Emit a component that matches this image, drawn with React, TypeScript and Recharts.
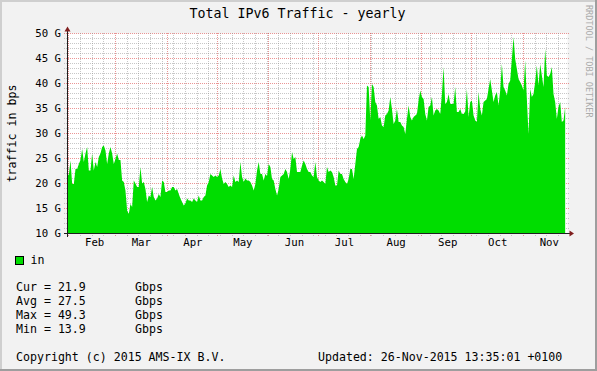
import React from 'react';
import { ComposedChart, Area, XAxis, YAxis, CartesianGrid } from 'recharts';

// time axis: days since 1 Feb 2015 (Sundays on multiples of 7)
const startDay = -1;
const trafficGbps = [
  21.9, 21.7, 24.6, 19.9, 19.9, 22.9, 22.9, 23.9, 24.7, 26.9,
  24.3, 26.0, 27.3, 22.6, 22.6, 26.0, 22.6, 24.3, 23.3, 25.3,
  26.0, 27.3, 27.6, 26.6, 23.9, 26.0, 27.3, 26.0, 23.9, 24.9,
  26.0, 24.7, 24.7, 20.6, 20.3, 18.6, 14.6, 13.9, 15.9, 15.3,
  20.6, 20.0, 19.3, 19.3, 23.3, 20.0, 20.3, 18.9, 16.3, 17.6,
  17.3, 19.3, 17.3, 16.6, 17.0, 17.9, 17.3, 20.6, 20.3, 18.3,
  18.3, 18.6, 18.6, 19.3, 19.3, 18.6, 18.9, 17.9, 17.0, 16.3,
  15.6, 16.0, 17.0, 16.6, 16.6, 16.3, 17.0, 16.6, 16.3, 17.6,
  16.6, 16.6, 17.3, 17.6, 19.6, 20.3, 21.9, 21.6, 21.3, 21.6,
  21.3, 21.6, 22.9, 21.0, 19.9, 20.3, 19.9, 19.3, 19.6, 19.3,
  21.6, 20.3, 20.6, 20.3, 24.3, 21.3, 20.3, 21.0, 20.6, 20.6,
  20.3, 19.6, 18.6, 19.9, 22.6, 24.3, 21.9, 21.9, 20.6, 21.9,
  21.5, 23.9, 23.3, 20.9, 20.6, 18.9, 17.6, 18.9, 21.3, 21.6,
  21.9, 22.9, 22.3, 20.9, 22.9, 26.3, 24.9, 25.3, 22.3, 22.3,
  22.3, 23.6, 24.6, 23.9, 22.9, 22.3, 22.3, 21.6, 21.3, 24.3,
  21.3, 20.6, 20.3, 20.6, 20.3, 19.9, 23.3, 22.3, 22.6, 22.3,
  21.3, 19.6, 19.6, 22.6, 21.9, 21.9, 20.9, 20.3, 19.9, 20.9,
  22.9, 22.9, 20.9, 23.9, 26.9, 27.3, 28.9, 29.6, 28.9, 29.6,
  39.6, 39.3, 32.6, 39.9, 39.3, 36.3, 35.6, 32.9, 33.3, 31.6,
  31.3, 33.6, 33.9, 34.6, 37.3, 34.9, 31.9, 32.6, 34.9, 32.3,
  32.3, 31.6, 31.3, 29.9, 32.9, 35.6, 33.3, 32.6, 33.3, 33.6,
  33.9, 36.6, 38.6, 37.3, 36.9, 33.9, 32.6, 35.3, 35.6, 37.3,
  33.6, 34.6, 34.9, 34.6, 33.9, 37.9, 43.3, 35.9, 36.3, 37.9,
  35.9, 35.9, 35.9, 39.3, 34.3, 34.3, 34.9, 33.9, 33.9,
  34.4, 38.9, 33.3, 36.3, 36.6, 33.6, 32.6, 32.3, 38.3, 34.9,
  33.6, 36.3, 36.6, 36.9, 38.9, 40.9, 38.6, 36.3, 37.6, 38.3,
  35.6, 38.6, 43.9, 39.3, 38.6, 37.6, 39.9, 40.6, 44.9, 49.3,
  44.9, 42.9, 40.9, 40.3, 39.6, 38.6, 44.6, 36.9, 29.9, 38.9,
  37.3, 37.9, 40.3, 43.6, 39.6, 43.9, 41.6, 39.3, 46.9, 41.6,
  41.3, 41.9, 43.3, 37.9, 36.3, 32.9, 35.3, 36.3, 32.3, 32.6,
  35.3,
];
const monthStartDays = [0, 28, 59, 89, 120, 150, 181, 212, 242, 273];
const monthLabels = ['Feb', 'Mar', 'Apr', 'May', 'Jun', 'Jul', 'Aug', 'Sep', 'Oct', 'Nov'];
const yMajorTicks = [10, 15, 20, 25, 30, 35, 40, 45, 50];
const statLabels = ['Cur', 'Avg', 'Max', 'Min'];
const statValues = ['21.9', '27.5', '49.3', '13.9'];
const statUnit = 'Gbps';
const seriesName = 'in';
const titleText = 'Total IPv6 Traffic - yearly';
const yLabelText = 'traffic in bps';
const copyrightText = 'Copyright (c) 2015 AMS-IX B.V.';
const updatedText = 'Updated: 26-Nov-2015 13:35:01 +0100';
const watermarkText = 'RRDTOOL / TOBI OETIKER';

const X_DOMAIN: [number, number] = [-0.8, 299.4];
const Y_DOMAIN: [number, number] = [10, 50];

const data = trafficGbps.map((v, i) => ({ t: startDay + i, v }));
const labelDays = monthStartDays.map((d) => d + 15.5);
const weekDays: number[] = [];
for (let d = 0; d <= 298; d += 7) if (!monthStartDays.includes(d)) weekDays.push(d);
const yGridValues: number[] = [];
for (let v = 10; v <= 50; v += 1) yGridValues.push(v);
const xGridValues = [...monthStartDays, ...weekDays].sort((a, b) => a - b);

const FONT = "'DejaVu Sans Mono', monospace";
const GREEN = '#00DD00';
const MGRID = 'rgba(222,79,79,0.6)';
const GRID = 'rgba(143,143,143,0.5)';
const AXIS = '#1F1F1F';
const ARROW = '#801F1F';

// snap a scaled coordinate onto a pixel centre so 1px dotted lines stay crisp
const snap = (c: number) => Math.floor(c) + 0.5;

const xCoords = (props: any) => {
  const sc = props?.xAxis?.scale;
  if (typeof sc === 'function') return xGridValues.map((v) => snap(sc(v)));
  const o = props.offset;
  return xGridValues.map((v) => snap(o.left + ((v - X_DOMAIN[0]) / (X_DOMAIN[1] - X_DOMAIN[0])) * o.width));
};
const yCoords = (props: any) => {
  const sc = props?.yAxis?.scale;
  if (typeof sc === 'function') return yGridValues.map((v) => snap(sc(v)));
  const o = props.offset;
  return yGridValues.map((v) => snap(o.top + ((Y_DOMAIN[1] - v) / (Y_DOMAIN[1] - Y_DOMAIN[0])) * o.height));
};

const HLine = (p: any) => {
  const v = yGridValues[p.index];
  const major = yMajorTicks.includes(v);
  return (
    <line
      key={`h-${p.index}`}
      x1={Math.floor(Math.min(p.x1, p.x2)) - 3}
      x2={Math.ceil(Math.max(p.x1, p.x2)) + 1}
      y1={p.y1}
      y2={p.y2}
      stroke={major ? MGRID : GRID}
      strokeDasharray="1 1"
    />
  );
};
const VLine = (p: any) => {
  const v = xGridValues[p.index];
  const major = monthStartDays.includes(v);
  return (
    <line
      key={`v-${p.index}`}
      x1={p.x1}
      x2={p.x2}
      y1={Math.floor(Math.min(p.y1, p.y2))}
      y2={Math.ceil(Math.max(p.y1, p.y2)) + 3}
      stroke={major ? MGRID : GRID}
      strokeDasharray="1 1"
    />
  );
};

const XTick = (props: any) => {
  const { x, y, payload } = props;
  const li = labelDays.indexOf(payload.value);
  if (li < 0) return <g />;
  return (
    <text x={x} y={y + 12.3} textAnchor="middle" fontSize={10.7} fontFamily={FONT} fill="#000">
      {monthLabels[li]}
    </text>
  );
};

const YTick = (props: any) => {
  const { x, y, payload } = props;
  return (
    <text x={x - 6.5} y={y + 3.7} textAnchor="end" fontSize={10.7} fontFamily={FONT} fill="#000">
      {`${payload.value} G`}
    </text>
  );
};

export default function App() {
  const legendFont = 11.6;
  return (
    <div
      style={{ position: 'absolute', left: 0, top: 0, width: 597, height: 371, background: '#F2F2F2', overflow: 'hidden' }}
    >
      <div style={{ position: 'absolute', left: 0, top: 0 }}>
        <ComposedChart
          width={597}
          height={371}
          data={data}
          margin={{ top: 33.5, right: 29.5, left: 7.5, bottom: 117.5 }}
        >
          <CartesianGrid
            horizontalCoordinatesGenerator={yCoords}
            verticalCoordinatesGenerator={xCoords}
            horizontal={(p: any) => <HLine {...p} />}
            vertical={(p: any) => <VLine {...p} />}
            stroke={GRID}
            fill="#FFFFFF"
            fillOpacity={1}
          />
          <XAxis
            type="number"
            dataKey="t"
            domain={X_DOMAIN}
            allowDataOverflow
            ticks={labelDays}
            interval={0}
            height={20}
            tickSize={0}
            tickMargin={0}
            axisLine={false}
            tickLine={false}
            tick={(p: any) => <XTick {...p} />}
          />
          <YAxis
            type="number"
            domain={Y_DOMAIN}
            allowDataOverflow
            ticks={yMajorTicks}
            interval={0}
            width={60}
            tickSize={0}
            tickMargin={0}
            axisLine={false}
            tickLine={false}
            tick={(p: any) => <YTick {...p} />}
          />
          <Area
            type="linear"
            dataKey="v"
            stroke="none"
            fill={GREEN}
            fillOpacity={1}
            isAnimationActive={false}
            dot={false}
            activeDot={false}
          />
        </ComposedChart>
      </div>
      <svg
        width={597}
        height={371}
        style={{ position: 'absolute', left: 0, top: 0, pointerEvents: 'none' }}
        fontFamily={FONT}
      >
        <rect x={0} y={0} width={597} height={2} fill="#CFCFCF" />
        <rect x={0} y={0} width={2} height={371} fill="#CFCFCF" />
        <rect x={0} y={369} width={597} height={2} fill="#9E9E9E" />
        <rect x={595} y={0} width={2} height={371} fill="#9E9E9E" />
        <line x1={64} x2={570} y1={233.5} y2={233.5} stroke={AXIS} />
        <polygon points="569.5,230.5 574,233.5 569.5,236.5" fill={ARROW} />
        <line x1={67.5} x2={67.5} y1={237} y2={30} stroke={AXIS} />
        <polygon points="64.5,31.5 67.5,26.5 70.5,31.5" fill={ARROW} />
        <text x={297.5} y={17.5} textAnchor="middle" fontSize={13.3} fill="#000">
          {titleText}
        </text>
        <text transform="translate(585.5,5) rotate(90)" fontSize={8.5} fill="#ABABAB">
          {watermarkText}
        </text>
        <text transform="translate(15.5,133.5) rotate(-90)" textAnchor="middle" fontSize={legendFont} fill="#000">
          {yLabelText}
        </text>
        <rect x={15.5} y={256.5} width={8} height={8} fill={GREEN} stroke="#000" />
        <text x={30.5} y={263.5} fontSize={legendFont} fill="#000">
          {seriesName}
        </text>
        {statLabels.map((l, i) => (
          <g key={l}>
            <text x={16} y={290.5 + i * 14} fontSize={legendFont} fill="#000">
              {`${l} = ${statValues[i]}`}
            </text>
            <text x={135} y={290.5 + i * 14} fontSize={legendFont} fill="#000">
              {statUnit}
            </text>
          </g>
        ))}
        <text x={16} y={360.5} fontSize={legendFont} fill="#000">
          {copyrightText}
        </text>
        <text x={562.3} y={360.5} textAnchor="end" fontSize={legendFont} fill="#000">
          {updatedText}
        </text>
      </svg>
    </div>
  );
}
